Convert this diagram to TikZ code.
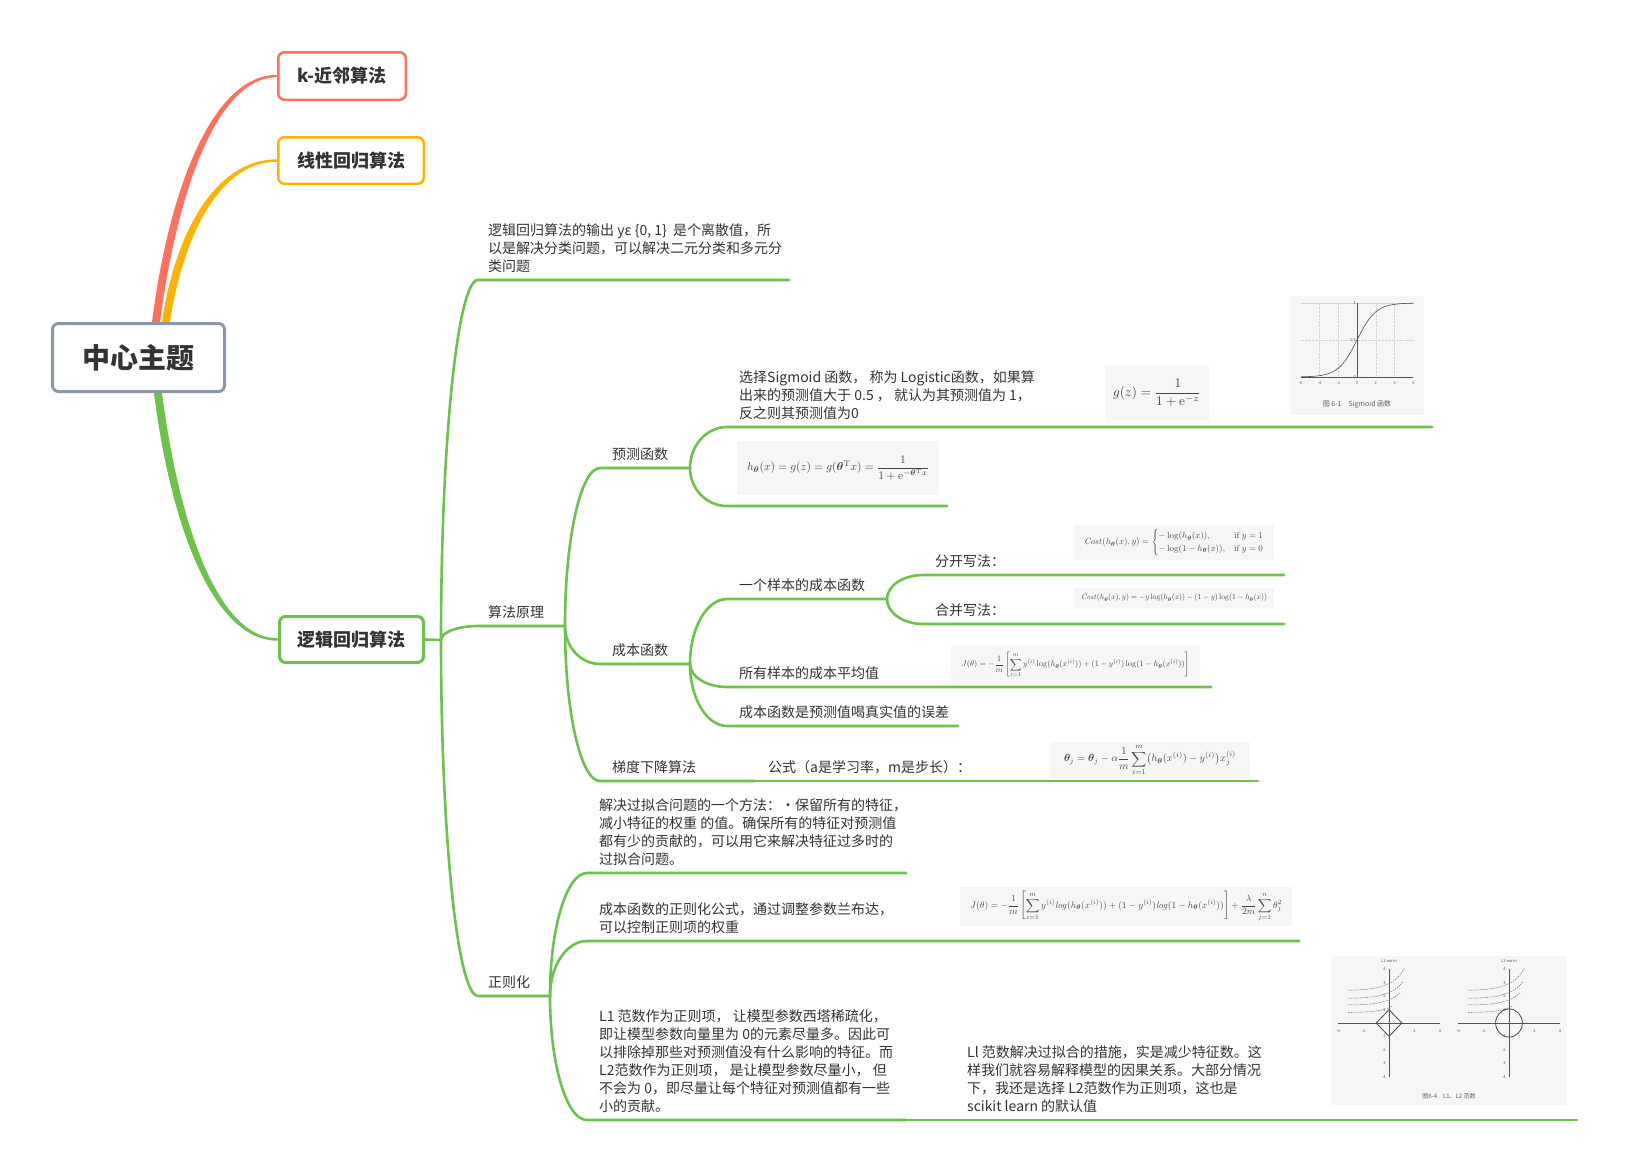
\documentclass[tikz,border=0pt]{standalone}
\usepackage{amsmath,amssymb}
\usepackage{bm}
\usepackage[no-math]{fontspec}
\setmainfont{Noto Sans CJK SC}
\usepackage{graphicx}
\usetikzlibrary{calc}
\pgfdeclarelayer{bg}
\pgfsetlayers{bg,main}
\definecolor{ink}{HTML}{333333}
\definecolor{gr}{HTML}{6CC24A}
\definecolor{rd}{HTML}{FF705E}
\definecolor{og}{HTML}{FFB300}
\definecolor{cbx}{HTML}{8A97AB}
\definecolor{fm}{HTML}{444444}
\definecolor{imgbg}{HTML}{F6F6F6}
\newcommand\ml[1]{\begin{tabular}[t]{@{}l@{}}#1\end{tabular}}
\newcommand\fx[2]{\resizebox{#1pt}{!}{$\displaystyle #2$}}
\tikzset{
  br/.style={draw=gr, line width=2.6pt, line cap=round},
  qe/.style={to path={let \p1=(\tikztostart), \p2=(\tikztotarget) in .. controls (\x1,{\y1+0.552*(\y2-\y1)}) and ({\x2-0.552*(\x2-\x1)},\y2) .. (\tikztotarget)}},
  txt/.style={anchor=base west, inner sep=0pt, text=ink, font=\fontsize{14}{18}\selectfont},
  topic/.style={rounded corners=6pt, fill=white, text=ink, inner sep=0pt, font=\fontsize{18}{22}\selectfont\bfseries},
  img/.style={fill=imgbg, inner sep=0pt},
  fml/.style={img, text=fm},
  tick/.style={inner sep=0pt, text=gray!70!black, font=\fontsize{4}{5}\selectfont},
  axl/.style={draw=gray!65!black, line width=0.5pt},
  dsh/.style={draw=gray!70!black, line width=0.45pt, dash pattern=on 1.3pt off 1pt},
}
\begin{document}
\begin{tikzpicture}[x=1pt,y=-1pt]
\useasboundingbox (0,0) rectangle (1627,1171);

% ---------- main topics ----------
\node[topic, draw=cbx, line width=3pt, minimum width=172pt, minimum height=68pt,
      font=\fontsize{28}{32}\selectfont\bfseries] (ct) at (138.5,357.5) {中心主题};
\node[topic, draw=rd, line width=2.5pt, minimum width=127.5pt, minimum height=47.5pt] (kn) at (342,76) {k-近邻算法};
\node[topic, draw=og, line width=2.5pt, minimum width=145.5pt, minimum height=46.5pt] (ln) at (351,160.5) {线性回归算法};
\node[topic, draw=gr, line width=3pt, minimum width=144pt, minimum height=46pt] (lg) at (351.5,639.5) {逻辑回归算法};

\begin{pgfonlayer}{bg}
\fill[white] (0,0) rectangle (1627,1171);
\fill[rd] ($(ct.north)+(13.5,0)$) .. controls (169,188) and (213,74.8) .. ($(kn.west)+(0,-1.2)$)
   -- ($(kn.west)+(0,1.2)$) .. controls (217,77.2) and (177,192) .. ($(ct.north)+(21.5,0)$) -- cycle;
\fill[og] ($(ct.north)+(23.5,0)$) .. controls (174,238) and (213,159.3) .. ($(ln.west)+(0,-1.2)$)
   -- ($(ln.west)+(0,1.2)$) .. controls (217,161.7) and (182,242) .. ($(ct.north)+(31.5,0)$) -- cycle;
\fill[gr] ($(ct.south)+(15.5,0)$) .. controls (171,528) and (214,641.2) .. ($(lg.west)+(0,1.2)$)
   -- ($(lg.west)+(0,-1.2)$) .. controls (218,638.8) and (179,524) .. ($(ct.south)+(23.5,0)$) -- cycle;
\end{pgfonlayer}

% ---------- connector coordinates ----------
\coordinate (J0) at (441,640);
\coordinate (a1s) at (478,280);  \coordinate (a1e) at (789,280);
\coordinate (a2s) at (478,626);  \coordinate (a2e) at (565,626);
\coordinate (a3s) at (478,996);  \coordinate (a3e) at (550,996);
\coordinate (b1s) at (600,468);  \coordinate (b1e) at (690,468);
\coordinate (b2s) at (600,664);  \coordinate (b2e) at (690,664);
\coordinate (b3s) at (600,781);  \coordinate (b3e) at (756,781);
\coordinate (b4e) at (1258,781);
\coordinate (c1s) at (727,427);  \coordinate (c1e) at (1432,427);
\coordinate (c2s) at (727,506);  \coordinate (c2e) at (947,506);
\coordinate (d1s) at (727,599);  \coordinate (d1e) at (887,599);
\coordinate (d2s) at (727,687);  \coordinate (d2e) at (1211,687);
\coordinate (d3s) at (727,726);  \coordinate (d3e) at (958,726);
\coordinate (e1s) at (923,575);  \coordinate (e1e) at (1284,575);
\coordinate (e2s) at (923,624);  \coordinate (e2e) at (1284,624);
\coordinate (f1s) at (587,873);  \coordinate (f1e) at (906,873);
\coordinate (f2s) at (587,941);  \coordinate (f2e) at (1299,941);
\coordinate (f3s) at (587,1120); \coordinate (f3e) at (906,1120);
\coordinate (f4e) at (1577,1120);

\draw[br] (lg.east) -- (J0);
\draw[br] (J0) to[qe] (a1s) -- (a1e);
\draw[br] (J0) to[qe] (a2s) -- (a2e);
\draw[br] (J0) to[qe] (a3s) -- (a3e);
\draw[br] (a2e) to[qe] (b1s) -- (b1e);
\draw[br] (a2e) to[qe] (b2s) -- (b2e);
\draw[br] (a2e) to[qe] (b3s) -- (b3e);
\draw[br] (b3e) -- (b4e);
\draw[br] (b1e) to[qe] (c1s) -- (c1e);
\draw[br] (b1e) to[qe] (c2s) -- (c2e);
\draw[br] (b2e) to[qe] (d1s) -- (d1e);
\draw[br] (b2e) to[qe] (d2s) -- (d2e);
\draw[br] (b2e) to[qe] (d3s) -- (d3e);
\draw[br] (d1e) to[qe] (e1s) -- (e1e);
\draw[br] (d1e) to[qe] (e2s) -- (e2e);
\draw[br] (a3e) to[qe] (f1s) -- (f1e);
\draw[br] (a3e) to[qe] (f2s) -- (f2e);
\draw[br] (a3e) to[qe] (f3s) -- (f3e);
\draw[br] (f3e) -- (f4e);

% ---------- texts ----------
\node[txt] (t1) at (488,235) {\ml{逻辑回归算法的输出 yε \{0, 1\}\ \ 是个离散值，所\\以是解决分类问题，可以解决二元分类和多元分\\类问题}};
\node[txt] (sfyl) at (488,617) {算法原理};
\node[txt] (zzh) at (488,987) {正则化};
\node[txt] (ychs) at (612,459) {预测函数};
\node[txt] (cbhs) at (612,655) {成本函数};
\node[txt] (tdxj) at (612,772) {梯度下降算法};
\node[txt] (gs) at (768,772) {公式（a是学习率，m是步长）：};
\node[txt] (t2) at (739,382) {\ml{选择Sigmoid 函数， 称为 Logistic函数，如果算\\出来的预测值大于 0.5 ， 就认为其预测值为 1，\\反之则其预测值为0}};
\node[txt] (ygyb) at (739,590) {一个样本的成本函数};
\node[txt] (fkxf) at (935,566) {分开写法：};
\node[txt] (hbxf) at (935,615) {合并写法：};
\node[txt] (syyb) at (739,678) {所有样本的成本平均值};
\node[txt] (wc) at (739,717) {成本函数是预测值喝真实值的误差};
\node[txt] (t3) at (599,810) {\ml{解决过拟合问题的一个方法：·保留所有的特征，\\减小特征的权重 的值。确保所有的特征对预测值\\都有少的贡献的，可以用它来解决特征过多时的\\过拟合问题。}};
\node[txt] (t4) at (599,914) {\ml{成本函数的正则化公式，通过调整参数兰布达，\\可以控制正则项的权重}};
\node[txt] (t5) at (599,1021) {\ml{L1 范数作为正则项， 让模型参数西塔稀疏化，\\即让模型参数向量里为 0的元素尽量多。因此可\\以排除掉那些对预测值没有什么影响的特征。而\\L2范数作为正则项， 是让模型参数尽量小， 但\\不会为 0，即尽量让每个特征对预测值都有一些\\小的贡献。}};
\node[txt] (t6) at (967,1057) {\ml{Ll 范数解决过拟合的措施，实是减少特征数。这\\样我们就容易解释模型的因果关系。大部分情况\\下，我还是选择 L2范数作为正则项，这也是\\scikit learn 的默认值}};

% ---------- formulas ----------
\node[fml, minimum width=104pt, minimum height=55pt] (fg) at (1157,392.5)
  {\fx{88}{g(z)=\frac{1}{1+\mathrm{e}^{-z}}}};
\node[fml, minimum width=202pt, minimum height=54pt] (fh) at (838,468)
  {\fx{182}{h_{\bm\theta}(x)=g(z)=g(\bm\theta^{\mathrm T}x)=\frac{1}{1+\mathrm{e}^{-\bm\theta^{\mathrm T}x}}}};
\node[fml, minimum width=200pt, minimum height=35pt] (fc1) at (1174,542.5)
  {\fx{180}{\mathit{Cost}(h_{\bm\theta}(x),y)=\begin{cases}-\log(h_{\bm\theta}(x)), & \mathrm{if}\ y=1\\ -\log(1-h_{\bm\theta}(x)), & \mathrm{if}\ y=0\end{cases}}};
\node[fml, minimum width=200pt, minimum height=20pt] (fc2) at (1174,598)
  {\fx{186}{\mathit{Cost}(h_{\bm\theta}(x),y)=-y\log(h_{\bm\theta}(x))-(1-y)\log(1-h_{\bm\theta}(x))}};
\node[fml, minimum width=249pt, minimum height=40pt] (fj) at (1075.5,665)
  {\fx{228}{J(\theta)=-\frac{1}{m}\left[\sum_{i=1}^{m}y^{(i)}\log(h_{\bm\theta}(x^{(i)}))+(1-y^{(i)})\log(1-h_{\bm\theta}(x^{(i)}))\right]}};
\node[fml, minimum width=200pt, minimum height=36pt] (fgd) at (1150,760)
  {\fx{172}{\bm\theta_j=\bm\theta_j-\alpha\frac{1}{m}\sum_{i=1}^{m}\bigl(h_{\bm\theta}(x^{(i)})-y^{(i)}\bigr)x_j^{(i)}}};
\node[fml, minimum width=332pt, minimum height=39pt] (fr) at (1126,906.5)
  {\fx{312}{J(\theta)=-\frac{1}{m}\left[\sum_{i=1}^{m}y^{(i)}\mathit{log}(h_{\bm\theta}(x^{(i)}))+(1-y^{(i)})\mathit{log}(1-h_{\bm\theta}(x^{(i)}))\right]+\frac{\lambda}{2m}\sum_{j=1}^{n}\theta_j^2}};

% ---------- sigmoid figure ----------
\node[img, minimum width=134pt, minimum height=119pt] (sg) at (1357,355.5) {};
\begin{scope}[shift={(1357,377)}, x=9.4pt, y=74pt]
  \foreach \v in {-4,-2,2,4} \draw[gray!35, densely dotted, line width=0.4pt] (\v,0) -- (\v,1);
  \draw[gray!35, densely dotted, line width=0.4pt] (-6,0.5) -- (6,0.5);
  \draw[gray!35, line width=0.4pt] (-6,1) -- (6,1);
  \draw[axl] (-6,0) -- (6,0);
  \draw[axl] (0,0) -- (0,1);
  \draw[gray!60!black, line width=0.6pt, domain=-6:6, samples=60, smooth] plot (\x, {1/(1+exp(-\x))});
  \foreach \v in {-6,-4,-2,0,2,4,6} \node[tick] at (\v,-0.08) {\v};
  \node[tick, anchor=east] at (-0.1,1) {1};
  \node[tick, anchor=east] at (-0.1,0.5) {0.5};
  \node[tick, anchor=east] at (-0.1,0) {0};
\end{scope}
\node[inner sep=0pt, text=gray!75!black, font=\fontsize{7}{8}\selectfont] (sgc) at (1357,404) {图 6-1\quad Sigmoid 函数};

% ---------- L1 / L2 figure ----------
\node[img, minimum width=236pt, minimum height=149pt] (nm) at (1449,1030.5) {};
\foreach \ox/\tt in {1389/L1, 1509/L2} {
\begin{scope}[shift={(\ox,1023)}, x=12.75pt, y=13.4pt]
  \draw[axl] (-4,0) -- (4,0);
  \draw[axl] (0,-4) -- (0,4);
  \foreach \v in {-4,-2,2,4} \node[tick] at (\v,-0.6) {\v};
  \foreach \v in {-4,-3,-2,-1,1,2,3,4} \node[tick, anchor=east] at (-0.25,\v) {\v};
  \node[tick] at (0,4.6) {\tt\ norm};
  \draw[dsh] (-3.2,0.8) .. controls (-1.6,0.8) and (-0.4,0.85) .. (0.3,1.3);
  \draw[dsh] (-3.2,1.35) .. controls (-1.4,1.35) and (0.2,1.5) .. (0.9,2.3);
  \draw[dsh] (-3.2,1.85) .. controls (-1.2,1.85) and (0.4,2.1) .. (1.1,3.1);
  \draw[dsh] (-3.2,2.45) .. controls (-1.0,2.45) and (0.6,2.8) .. (1.2,4.1);
\end{scope}
}
\begin{scope}[shift={(1389,1023)}, x=12.75pt, y=13.4pt]
  \draw[gray!55!black, line width=0.8pt] (1,0) -- (0,1) -- (-1,0) -- (0,-1) -- cycle;
\end{scope}
\begin{scope}[shift={(1509,1023)}, x=12.75pt, y=13.4pt]
  \draw[gray!55!black, line width=0.8pt] (0,0) ellipse [x radius=1.05, y radius=1.05];
\end{scope}
\node[inner sep=0pt, text=gray!75!black, font=\fontsize{6}{7}\selectfont] (nmc) at (1449,1096) {图6-4\quad L1、L2 范数};
\end{tikzpicture}
\end{document}
